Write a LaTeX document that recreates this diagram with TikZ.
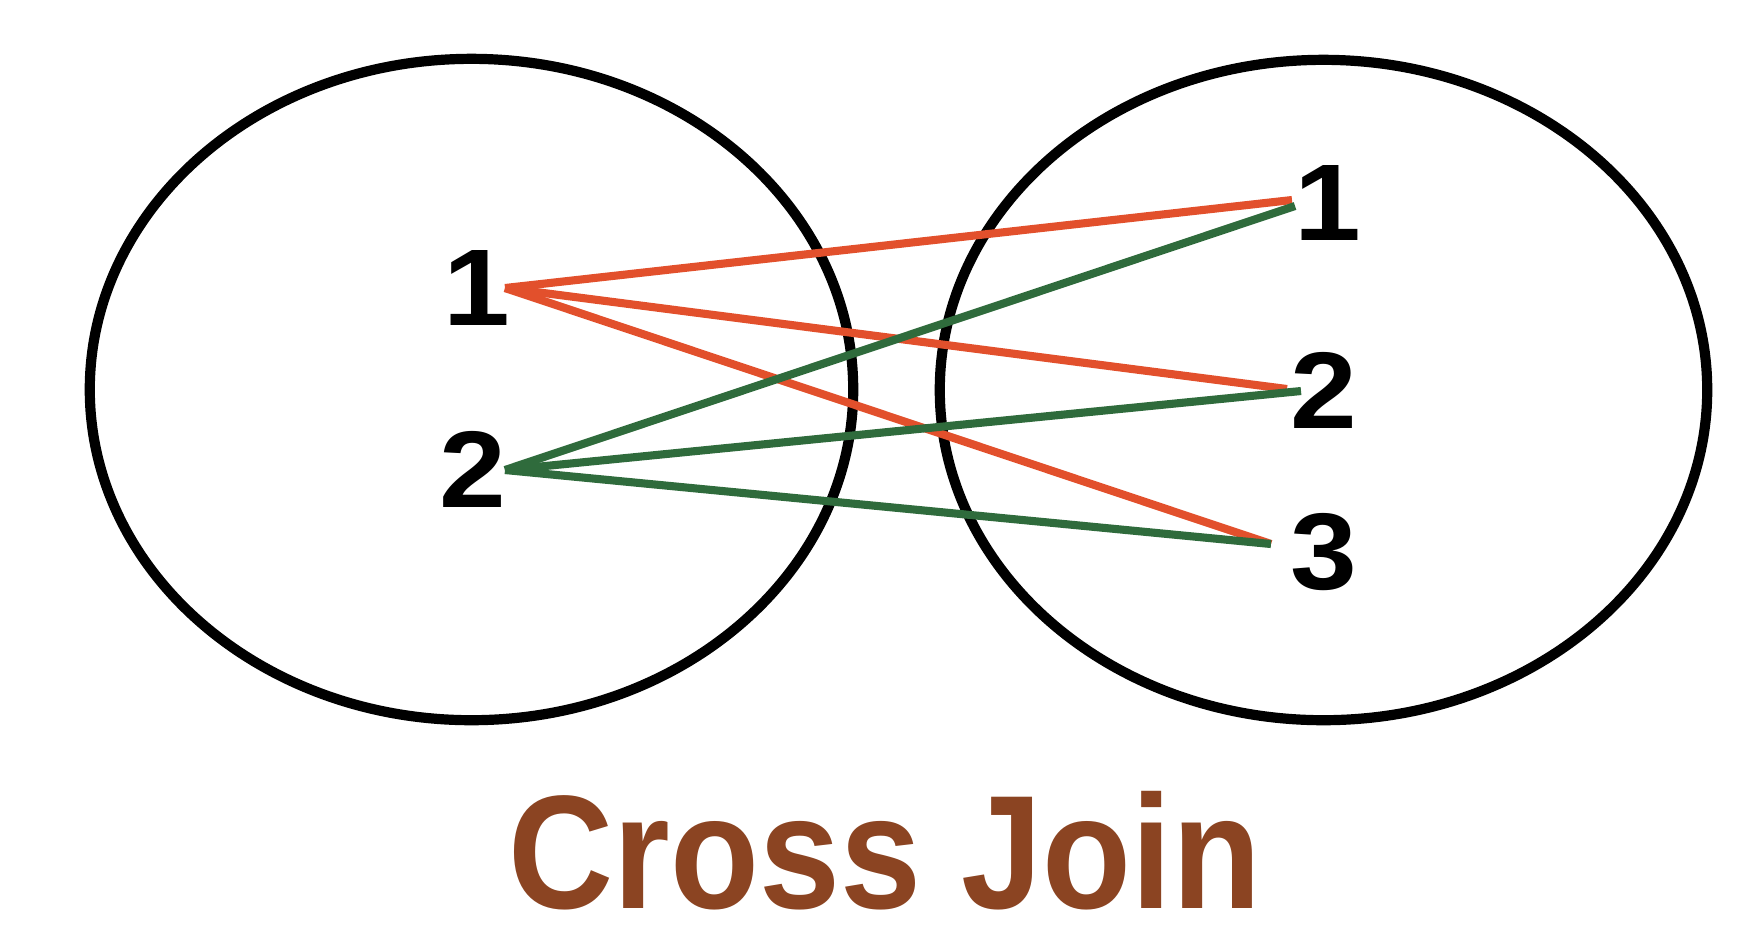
\documentclass[tikz,border=0pt]{standalone}
\usepackage{fontspec}
\usepackage{tikz}
\usetikzlibrary{shapes.geometric,calc}
\newfontfamily\digitfont{Liberation Sans}
\newfontfamily\titlefont{Liberation Sans}
\definecolor{LineRed}{HTML}{E2502C}
\definecolor{LineGreen}{HTML}{2F6B3C}
\definecolor{TitleBrown}{HTML}{8B4422}

\begin{document}
\begin{tikzpicture}[
  x=0.01cm,y=-0.01cm,
  setbox/.style={ellipse,draw=black,line width=2.9pt,inner sep=0pt},
  num/.style={anchor=base,inner sep=0pt,xscale=1.1,font=\digitfont\bfseries\fontsize{31pt}{31pt}\selectfont},
  redline/.style={draw=LineRed,line width=2.3pt},
  greenline/.style={draw=LineGreen,line width=2.3pt}
]
\useasboundingbox (0,0) rectangle (1754,944);
% the two sets
\node[setbox,minimum width=7.63cm,minimum height=6.61cm] (setA) at (471.5,389.5) {};
\node[setbox,minimum width=7.67cm,minimum height=6.60cm] (setB) at (1323.5,390) {};
% elements
\node[num] (a1) at (477,325) {1};
\node[num] (a2) at (473,507) {2};
\node[num] (b1) at (1328,240) {1};
\node[num] (b2) at (1324,428) {2};
\node[num] (b3) at (1324,589) {3};
% line ends
\coordinate (a1p) at (505,288);
\coordinate (a2p) at (505,470);
\coordinate (b1r) at (1292,200);
\coordinate (b1g) at (1295,206);
\coordinate (b2r) at (1287,389);
\coordinate (b2g) at (1301,391);
\coordinate (b3p) at (1271,544);
% pairs
\draw[redline] (a1p) -- (b1r);
\draw[redline] (a1p) -- (b2r);
\draw[redline] (a1p) -- (b3p);
\draw[greenline] (a2p) -- (b1g);
\draw[greenline] (a2p) -- (b2g);
\draw[greenline] (a2p) -- (b3p);
% title
\node[anchor=base,inner sep=0pt,xscale=0.9,text=TitleBrown,
  font=\titlefont\bfseries\fontsize{46pt}{46pt}\selectfont] (title) at (885,908) {Cross Join};
\end{tikzpicture}
\end{document}
